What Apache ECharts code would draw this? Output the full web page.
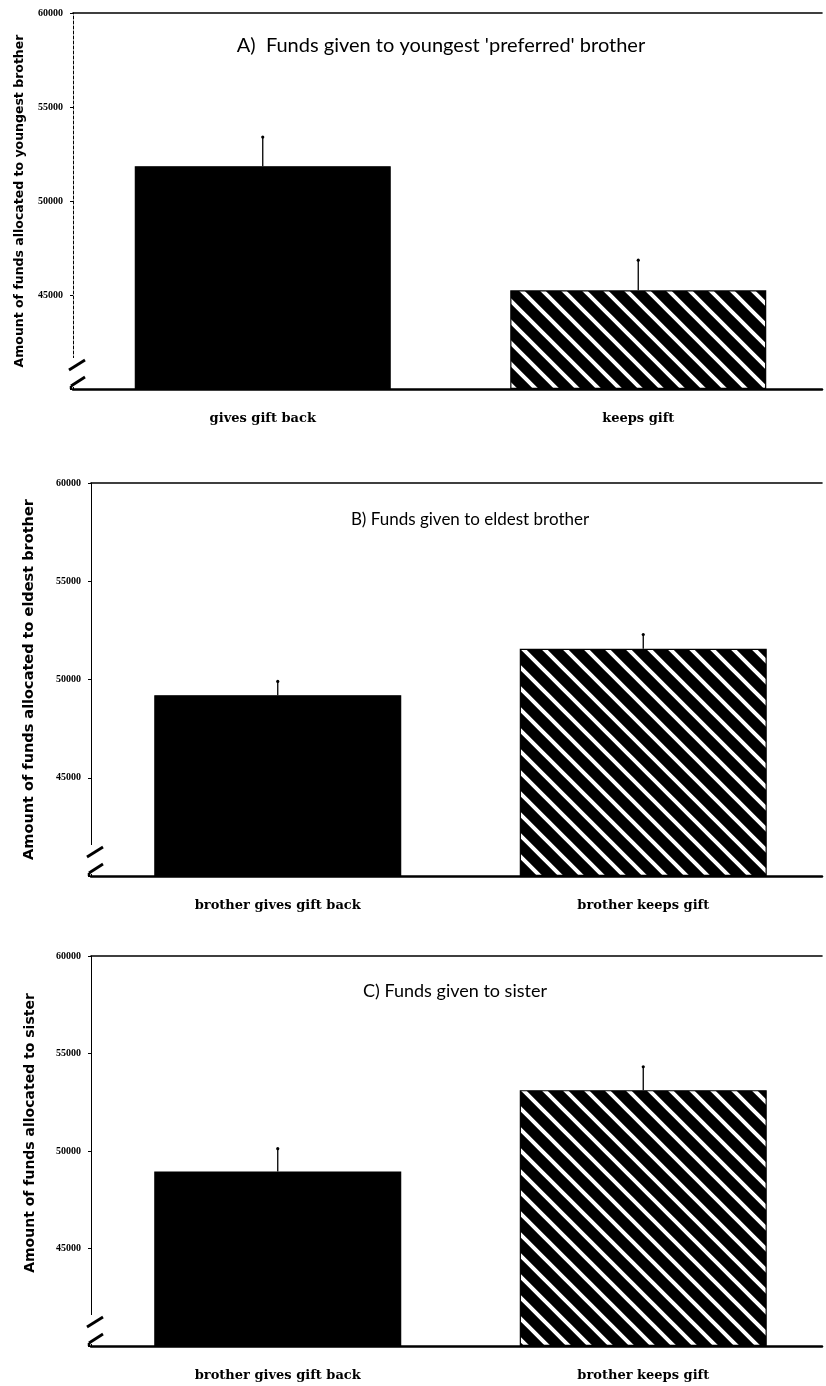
<!DOCTYPE html>
<html><head><meta charset="utf-8">
<script src="https://cdn.jsdelivr.net/npm/echarts@6/dist/echarts.min.js"></script>
<style>html,body{margin:0;padding:0;background:#fff}#c{width:826px;height:1386px}</style>
</head><body><div id="c"></div>
<script>
const titles = ["A)  Funds given to youngest 'preferred' brother", "B) Funds given to eldest brother", "C) Funds given to sister"];
const yNames = ["Amount of funds allocated to youngest brother", "Amount of funds allocated to eldest brother", "Amount of funds allocated to sister"];
const categoriesA = ["gives gift back", "keeps gift"];
const categoriesB = ["brother gives gift back", "brother keeps gift"];
const categoriesC = ["brother gives gift back", "brother keeps gift"];
const meansA = [51850, 45250];
const errorsA = [1550, 1600];
const meansB = [49200, 51560];
const errorsB = [700, 730];
const meansC = [48950, 53120];
const errorsC = [1170, 1200];
const yMin = 40000, yMax = 60000, yStep = 5000;

const panels = [
  {cats: categoriesA, means: meansA, errs: errorsA, frameLeft: 73, top: 13, height: 376, barLeft: 75, barGridW: 766, barW: 256,
   titleX: 441, titleY: 46, titleSize: 20, nameGap: 47, nameSize: 12.5, namePad: 0, dashed: true},
  {cats: categoriesB, means: meansB, errs: errorsB, frameLeft: 91, top: 483, height: 393, barLeft: 95, barGridW: 736, barW: 247,
   titleX: 470, titleY: 520, titleSize: 17, nameGap: 54, nameSize: 14.5, namePad: 0, dashed: false},
  {cats: categoriesC, means: meansC, errs: errorsC, frameLeft: 91, top: 956, height: 390, barLeft: 95, barGridW: 736, barW: 247,
   titleX: 455, titleY: 991, titleSize: 18, nameGap: 54, nameSize: 14, namePad: 36, dashed: false}
];
const RIGHT_EDGE = 822;

function makeHatch() {
  const s = 21;
  const c = document.createElement('canvas');
  c.width = s; c.height = s;
  const g = c.getContext('2d');
  g.fillStyle = '#000'; g.fillRect(0, 0, s, s);
  g.strokeStyle = '#fff'; g.lineWidth = 4;
  g.beginPath();
  for (const x0 of [-s, 0, s]) { g.moveTo(x0 - 2, -2); g.lineTo(x0 + s + 2, s + 2); }
  g.stroke();
  return c;
}
const hatch = makeHatch();

const catFont = {color: '#000', fontFamily: 'DejaVu Serif', fontWeight: 'bold', fontSize: 13};
const grid = [], xAxis = [], yAxis = [], series = [], graphic = [];
panels.forEach((p, i) => {
  grid.push({left: p.frameLeft, top: p.top, width: RIGHT_EDGE - p.frameLeft, height: p.height});
  grid.push({left: p.barLeft, top: p.top, width: p.barGridW, height: p.height});
  xAxis.push({gridIndex: 2*i, type: 'value', min: 0, max: 1, position: 'bottom',
    axisLine: {show: true, lineStyle: {color: '#000', width: 2.5}}, axisTick: {show: false}, axisLabel: {show: false}, splitLine: {show: false}});
  xAxis.push({gridIndex: 2*i, type: 'value', min: 0, max: 1, position: 'top',
    axisLine: {show: true, lineStyle: {color: '#000', width: 1.6}}, axisTick: {show: false}, axisLabel: {show: false}, splitLine: {show: false}});
  xAxis.push({gridIndex: 2*i+1, type: 'category', data: p.cats,
    axisLine: {show: false}, axisTick: {show: false},
    axisLabel: Object.assign({margin: 23, interval: 0}, catFont)});
  yAxis.push({gridIndex: 2*i, type: 'value', min: yMin, max: yMax, interval: yStep,
    axisLine: {show: true, lineStyle: {color: '#000', width: 1, type: p.dashed ? [3, 2] : 'solid'}},
    axisTick: {show: true, length: 3, lineStyle: {color: '#000'}},
    axisLabel: {margin: 10, color: '#000', fontFamily: 'Liberation Serif', fontWeight: 'bold', fontSize: 10,
      formatter: v => v === yMin ? '' : String(v)},
    splitLine: {show: false},
    name: yNames[i], nameLocation: 'middle', nameGap: p.nameGap,
    nameTextStyle: {color: '#000', fontFamily: 'DejaVu Sans', fontWeight: 'bold', fontSize: p.nameSize, padding: [0, 0, 0, p.namePad]}});
  yAxis.push({gridIndex: 2*i+1, type: 'value', min: yMin, max: yMax, interval: yStep, show: false});
  series.push({type: 'bar', xAxisIndex: 3*i+2, yAxisIndex: 2*i+1, stack: 's' + i, barWidth: p.barW, silent: true,
    itemStyle: {color: 'rgba(0,0,0,0)'}, data: p.means.map(() => yMin)});
  series.push({type: 'bar', xAxisIndex: 3*i+2, yAxisIndex: 2*i+1, stack: 's' + i, barWidth: p.barW, silent: true,
    data: p.means.map((v, j) => ({value: v - yMin, itemStyle: {color: j === 0 ? '#000' : {image: hatch, repeat: 'repeat'}, borderColor: '#000', borderWidth: 1.2}}))});
  series.push({type: 'custom', xAxisIndex: 3*i+2, yAxisIndex: 2*i+1, silent: true, z: 5,
    data: p.means.map((v, j) => [j, v, p.errs[j]]),
    renderItem: (params, api) => {
      const a = api.coord([api.value(0), api.value(1)]);
      const b = api.coord([api.value(0), api.value(1) + api.value(2)]);
      return {type: 'group', children: [
        {type: 'line', shape: {x1: a[0], y1: a[1], x2: b[0], y2: b[1]}, style: {stroke: '#000', lineWidth: 1.3}},
        {type: 'circle', shape: {cx: b[0], cy: b[1], r: 1.6}, style: {fill: '#000'}}
      ]};
    }});
  graphic.push({type: 'text', x: p.titleX, y: p.titleY, style: {text: titles[i], fill: '#000', font: p.titleSize + 'px Lato', textAlign: 'center', textVerticalAlign: 'middle'}});
  const L = p.frameLeft + 3, B = p.top + p.height;
  graphic.push({type: 'rect', shape: {x: L - 6, y: B - 31, width: 6, height: 29}, style: {fill: '#fff'}, z: 100});
  graphic.push({type: 'line', shape: {x1: L - 7, y1: B - 19, x2: L + 9, y2: B - 29}, style: {stroke: '#000', lineWidth: 2.8}, z: 101});
  graphic.push({type: 'line', shape: {x1: L - 5, y1: B - 3, x2: L + 9, y2: B - 12}, style: {stroke: '#000', lineWidth: 2.8}, z: 101});
  graphic.push({type: 'line', shape: {x1: L - 5, y1: B - 3, x2: L - 5, y2: B}, style: {stroke: '#000', lineWidth: 2.5}, z: 101});
});

const chart = echarts.init(document.getElementById('c'), null, {renderer: 'canvas'});
chart.setOption({animation: false, backgroundColor: '#fff', grid, xAxis, yAxis, series, graphic});
</script></body></html>
